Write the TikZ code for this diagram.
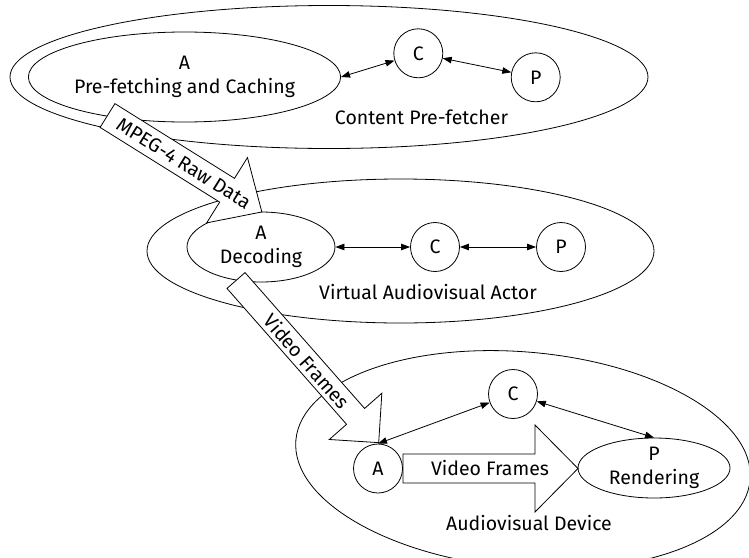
\documentclass[tikz,border=0pt]{standalone}
\usepackage{fontspec}
\setmainfont{Fira Sans}
\usetikzlibrary{shapes.geometric,arrows.meta}
\tikzset{
  lw/.style={line width=0.8pt},
  group/.style={draw, ellipse, inner sep=0pt, lw},
  role/.style={draw, circle, minimum size=49pt, inner sep=0pt, lw},
  task/.style={draw, ellipse, inner sep=0pt, align=center, lw},
  link/.style={lw, {Triangle[length=9pt,width=6.5pt]}-{Triangle[length=9pt,width=6.5pt]}},
  flow/.style={draw, fill=white, lw, line join=miter},
  caption/.style={inner sep=0pt},
}
% block arrow: tail x, tail y, angle, length, shaft width, head width, head length, label, label position
\newcommand{\blockarrow}[9]{%
  \begin{scope}[shift={(#1,#2)}, rotate=#3]
    \draw[flow] (0,#5/2) -- (#4-#7,#5/2) -- (#4-#7,#6/2) -- (#4,0)
      -- (#4-#7,-#6/2) -- (#4-#7,-#5/2) -- (0,-#5/2) -- cycle;
    \node[caption, rotate=#3] at (#9,0) {#8};
  \end{scope}}
\begin{document}
\begin{tikzpicture}[x=1pt, y=-1pt, font=\fontsize{19.5}{24}\selectfont]
\useasboundingbox (0,0) rectangle (749,557);
\clip (0,0) rectangle (749,557);

% actor groups
\node[group, minimum width=638pt, minimum height=143pt] (E1) at (329,77) {};
\node[group, minimum width=507pt, minimum height=144pt] (E2) at (400.5,251) {};
\node[group, minimum width=456pt, minimum height=216pt, rotate=-5] (E3) at (523,460) {};

% content pre-fetcher
\node[task, minimum width=286pt, minimum height=90pt] (A1) at (184.5,77) {A\\Pre-fetching and Caching};
\node[role] (C1) at (418.3,53.3) {C};
\node[role] (P1) at (535.7,77.3) {P};
\node[caption] (L1) at (421.5,117) {Content Pre-fetcher};

% virtual audiovisual actor
\node[task, minimum width=148pt, minimum height=70pt] (A2) at (261,247) {A\\Decoding};
\node[role] (C2) at (435,247) {C};
\node[role] (P2) at (561,247) {P};
\node[caption] (L2) at (428,292) {Virtual Audiovisual Actor};

% audiovisual device
\node[role] (A3) at (378,468.5) {A};
\node[role] (C3) at (513,394) {C};
\node[task, minimum width=152pt, minimum height=60pt] (P3) at (654,468) {P\\Rendering};
\node[caption] (L3) at (529,523) {Audiovisual Device};

% interactions
\draw[link] (A1.east) -- (C1);
\draw[link] (C1) -- (P1);
\draw[link] (A2.east) -- (C2);
\draw[link] (C2) -- (P2);
\draw[link] (A3.north) -- (C3);
\draw[link] (C3) -- (P3.north);

% data flows
\blockarrow{107.5}{115.5}{-32}{182}{28}{77}{41}{MPEG-4 Raw Data}{90}
\blockarrow{236}{280.5}{-48.65}{216}{24}{70}{35}{Video Frames}{107.5}
\blockarrow{403}{468.5}{0}{175}{29}{87}{43}{Video Frames}{87}
\end{tikzpicture}
\end{document}
